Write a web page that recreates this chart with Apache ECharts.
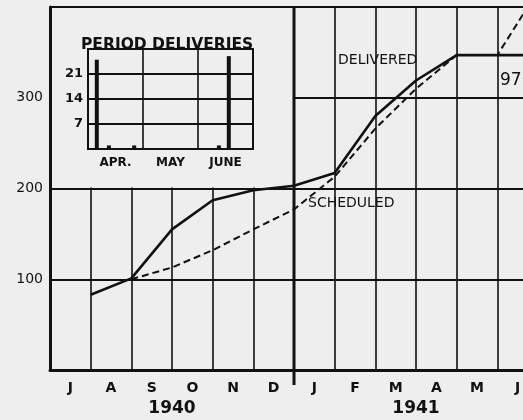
<!DOCTYPE html>
<html>
<head>
<meta charset="utf-8">
<script src="https://cdn.jsdelivr.net/npm/echarts@6/dist/echarts.min.js"></script>
<style>
  html, body { margin: 0; padding: 0; background: #eeeeee; }
  #chart { width: 523px; height: 420px; }
</style>
</head>
<body>
<div id="chart"></div>
<script>
  // months Jul 1940 .. Jul 1941
  var months = ['J', 'A', 'S', 'O', 'N', 'D', 'J', 'F', 'M', 'A', 'M', 'J'];
  var years = ['1940', '1941'];
  // cumulative values read at each month end (1 = end of July 1940)
  var monthEnds = [1, 2, 3, 4, 5, 6, 7, 8, 9, 10, 11, 12];
  var delivered = [83, 101, 155, 187, 198, 203, 217, 280, 319, 347, 347, 347];
  var scheduled = [null, 100, 113, 132, 155, 177, 213, 266, 310, 347, 347, 418];
  // inset: period deliveries (positions in month units from 1 April)
  var insetMonths = ['APR.', 'MAY', 'JUNE'];
  var insetPos = [0.16, 0.38, 0.84, 2.38, 2.56];
  var insetValues = [25, 1, 1, 1, 26];

  var ink = '#111';
  var font = 'DejaVu Sans';

  function pairs(xs, ys) {
    var out = [];
    xs.forEach(function (x, i) { if (ys[i] != null) out.push([x, ys[i]]); });
    return out;
  }

  var chart = echarts.init(document.getElementById('chart'));
  chart.setOption({
    backgroundColor: '#eeeeee',
    animation: false,
    title: {
      text: 'PERIOD DELIVERIES',
      left: 76, top: 32,
      textStyle: { fontFamily: font, fontSize: 15.5, fontWeight: 'bold', color: ink }
    },
    grid: [
      // the chart runs past the right edge of the picture
      { left: 50, top: 7, width: 488, bottom: 50, outerBoundsMode: 'none' },
      { left: 88, top: 49, width: 165, height: 100, show: true, z: 3, outerBoundsMode: 'none',
        backgroundColor: '#eeeeee', borderColor: ink, borderWidth: 2 }
    ],
    xAxis: [
      { // month labels + vertical grid
        type: 'category', data: months, gridIndex: 0, boundaryGap: true,
        axisLine: { lineStyle: { color: ink, width: 3 } },
        axisTick: { show: false },
        axisLabel: { color: ink, fontFamily: font, fontSize: 14, fontWeight: 'bold', margin: 11 },
        splitLine: { show: true, interval: 0, lineStyle: { color: ink, width: 1.6 } }
      },
      { // numeric month-end axis for the lines
        type: 'value', gridIndex: 0, min: 0, max: 12, show: false
      },
      { // year labels
        type: 'category', data: years, gridIndex: 0, boundaryGap: true, position: 'bottom', offset: 30,
        axisLine: { show: false }, axisTick: { show: false }, splitLine: { show: false },
        axisLabel: { color: ink, fontFamily: font, fontSize: 17, fontWeight: 'bold', margin: 0 }
      },
      { // inset months
        type: 'category', data: insetMonths, gridIndex: 1, boundaryGap: true, z: 4,
        axisLine: { lineStyle: { color: ink, width: 2 } },
        axisTick: { show: false },
        axisLabel: { color: ink, fontFamily: font, fontSize: 12, fontWeight: 'bold', margin: 8 },
        splitLine: { show: true, interval: 0, lineStyle: { color: ink, width: 1.6 } }
      },
      { type: 'value', gridIndex: 1, min: 0, max: 3, show: false }
    ],
    yAxis: [
      {
        type: 'value', gridIndex: 0, min: 0, max: 400, interval: 100,
        axisLine: { show: true, lineStyle: { color: ink, width: 3 } },
        axisTick: { show: false },
        axisLabel: { color: ink, fontFamily: font, fontSize: 14, margin: 7,
                     showMinLabel: false, showMaxLabel: false },
        splitLine: { show: true, lineStyle: { color: ink, width: 2 } }
      },
      {
        type: 'value', gridIndex: 1, min: 0, max: 28, interval: 7, z: 4,
        axisLine: { show: true, lineStyle: { color: ink, width: 2 } },
        axisTick: { show: false },
        axisLabel: { color: ink, fontFamily: font, fontSize: 13, fontWeight: 'bold', margin: 5,
                     showMinLabel: false, showMaxLabel: false },
        splitLine: { show: true, lineStyle: { color: ink, width: 2 } }
      }
    ],
    series: [
      {
        name: 'DELIVERED', type: 'line', xAxisIndex: 1, yAxisIndex: 0,
        data: pairs(monthEnds, delivered), symbol: 'none',
        lineStyle: { color: ink, width: 2.6 }
      },
      {
        name: 'SCHEDULED', type: 'line', xAxisIndex: 1, yAxisIndex: 0,
        data: pairs(monthEnds, scheduled), symbol: 'none',
        lineStyle: { color: ink, width: 2, type: [7, 4] }
      },
      {
        name: 'PERIOD', type: 'bar', xAxisIndex: 4, yAxisIndex: 1, z: 5,
        data: pairs(insetPos, insetValues), barWidth: 4,
        itemStyle: { color: ink }
      }
    ]
  });

  // blank panel behind the inset (main grid hidden there) and the year divider
  var p0 = chart.convertToPixel({ xAxisIndex: 1, yAxisIndex: 0 }, [0, 400]);
  var p1 = chart.convertToPixel({ xAxisIndex: 1, yAxisIndex: 0 }, [6, 200]);
  var pb = chart.convertToPixel({ xAxisIndex: 1, yAxisIndex: 0 }, [6, 0]);
  chart.setOption({
    graphic: [
      { type: 'rect', z: 1, silent: true,
        shape: { x: p0[0] + 2, y: p0[1] + 1, width: p1[0] - p0[0] - 3, height: p1[1] - p0[1] - 2 },
        style: { fill: '#eeeeee' } },
      { type: 'line', z: 4, silent: true,
        shape: { x1: p1[0], y1: p0[1], x2: pb[0], y2: pb[1] + 15 },
        style: { stroke: ink, lineWidth: 3 } },
      { type: 'text', z: 6, left: 338, top: 53,
        style: { text: 'DELIVERED', font: '14px ' + font, fill: ink } },
      { type: 'text', z: 6, left: 308, top: 196,
        style: { text: 'SCHEDULED', font: '14px ' + font, fill: ink } },
      { type: 'text', z: 6, left: 500, top: 72,
        style: { text: '970', font: '17px ' + font, fill: ink } }
    ]
  });

  window.onresize = function () { chart.resize(); };
</script>
</body>
</html>
